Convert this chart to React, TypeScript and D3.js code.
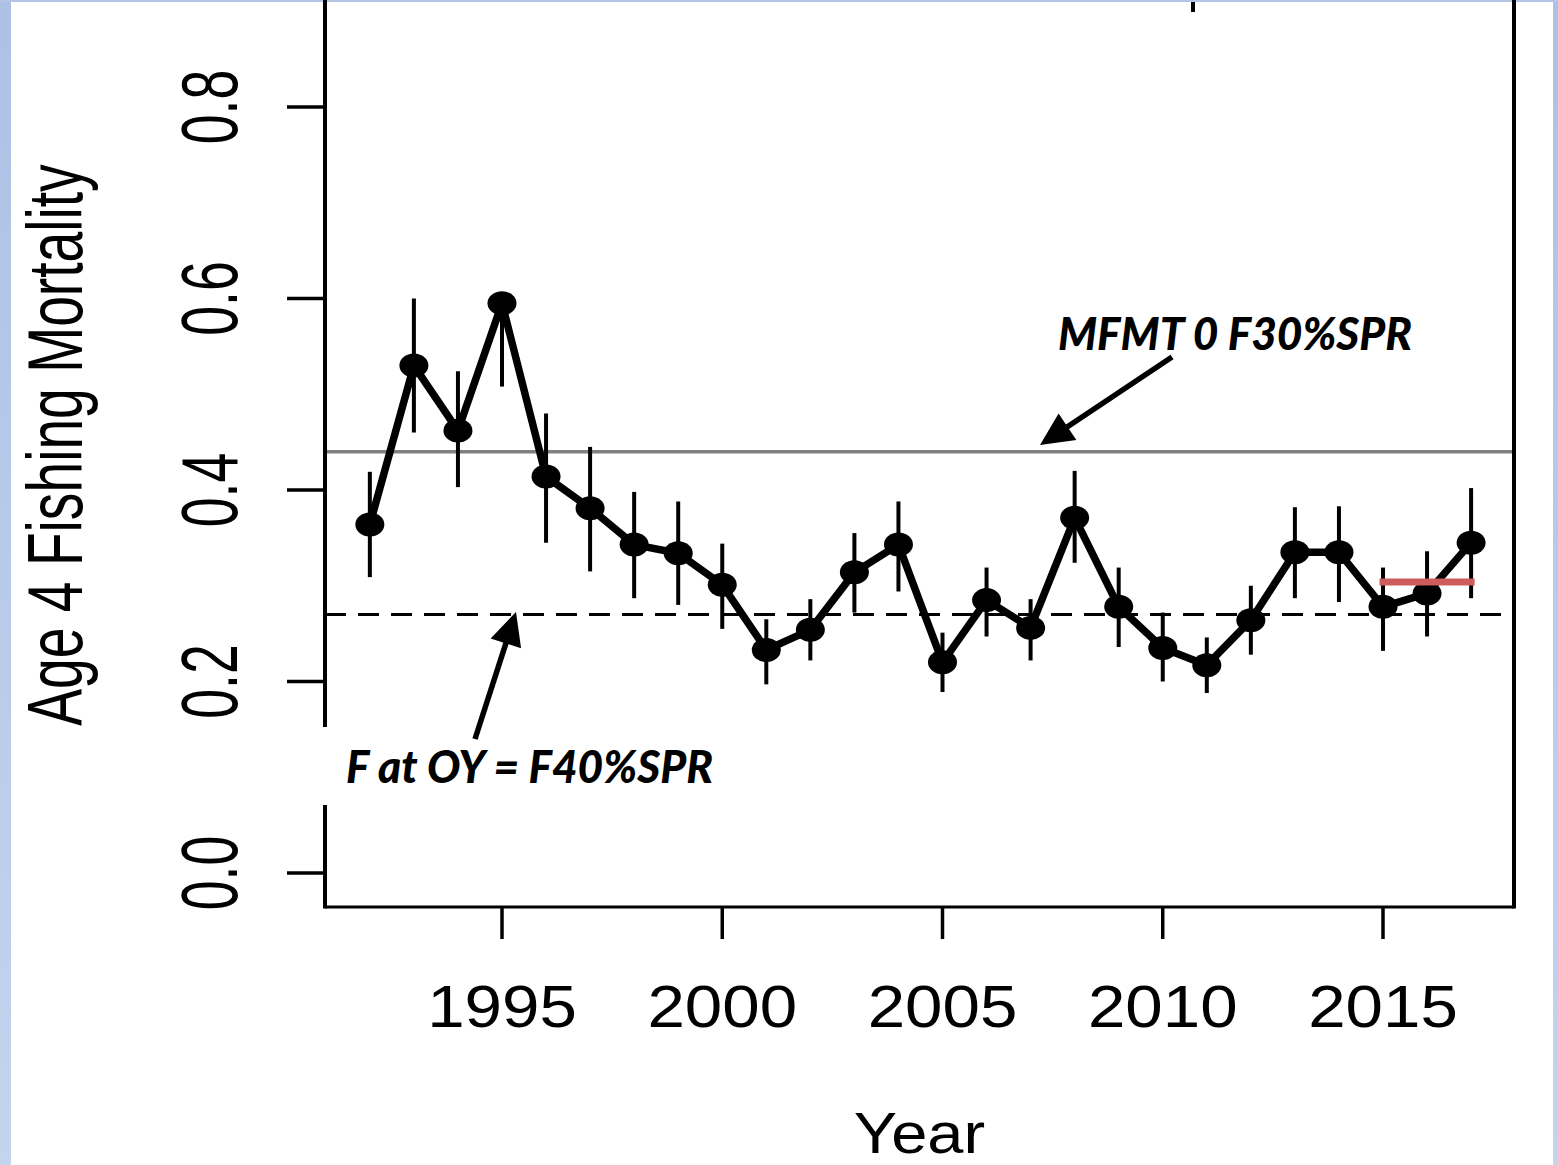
import React, { useEffect, useRef } from "react";
import * as d3 from "d3";

// age 4 F by year, with error bars
const years = [1992, 1993, 1994, 1995, 1996, 1997, 1998, 1999, 2000, 2001, 2002, 2003, 2004, 2005, 2006, 2007, 2008, 2009, 2010, 2011, 2012, 2013, 2014, 2015, 2016, 2017];
const fValues = [0.364, 0.530, 0.462, 0.595, 0.414, 0.381, 0.343, 0.334, 0.301, 0.233, 0.254, 0.314, 0.343, 0.220, 0.285, 0.256, 0.371, 0.278, 0.235, 0.217, 0.264, 0.335, 0.335, 0.278, 0.292, 0.345];
const fLower = [0.309, 0.460, 0.403, 0.508, 0.345, 0.315, 0.287, 0.280, 0.255, 0.197, 0.222, 0.272, 0.294, 0.189, 0.247, 0.222, 0.324, 0.236, 0.200, 0.188, 0.228, 0.287, 0.283, 0.232, 0.247, 0.287];
const fUpper = [0.419, 0.600, 0.524, 0.605, 0.480, 0.445, 0.398, 0.388, 0.344, 0.265, 0.286, 0.355, 0.388, 0.251, 0.319, 0.286, 0.420, 0.319, 0.272, 0.246, 0.300, 0.382, 0.383, 0.319, 0.336, 0.402];

const xTicks = [1995, 2000, 2005, 2010, 2015];
const yTicks = [0, 0.2, 0.4, 0.6, 0.8];
const yTickLabels = ["0.0", "0.2", "0.4", "0.6", "0.8"];

const mfmtValue = 0.44; // F30%SPR
const oyValue = 0.27; // F40%SPR
const recentYears = [2015, 2017];
const recentMean = 0.304;

const mfmtLabel = "MFMT 0 F30%SPR";
const oyLabel = "F at OY = F40%SPR";

const W = 1558;
const H = 1165;
const rFont = "'Liberation Sans', Arial, sans-serif";
const noteFont = "Lato, 'Open Sans', sans-serif";

const drawChart = (el: SVGSVGElement) => {
    const svg = d3.select(el);
    svg.selectAll("*").remove();

    const left = 325, right = 1514, bottom = 907, top = -10;
    const x = d3.scaleLinear().domain([1995, 2015]).range([502, 1383]);
    const y = d3.scaleLinear().domain([0, 0.8]).range([873, 107]);

    // slide frame
    const defs = svg.append("defs");
    const grad = defs.append("linearGradient").attr("id", "edge").attr("x1", 0).attr("x2", 0).attr("y1", 0).attr("y2", 1);
    grad.append("stop").attr("offset", "0%").attr("stop-color", "#adc1e5");
    grad.append("stop").attr("offset", "100%").attr("stop-color", "#c4d4ee");
    svg.append("rect").attr("width", W).attr("height", H).attr("fill", "#fff");
    svg.append("rect").attr("x", 0).attr("y", 0).attr("width", 11).attr("height", H).attr("fill", "url(#edge)");
    svg.append("rect").attr("x", 1553).attr("y", 0).attr("width", 5).attr("height", H).attr("fill", "url(#edge)");
    svg.append("rect").attr("x", 0).attr("y", 0).attr("width", W).attr("height", 2).attr("fill", "#b2c5e7");

    // reference lines
    svg.append("line")
        .attr("x1", left).attr("x2", right)
        .attr("y1", y(mfmtValue)).attr("y2", y(mfmtValue))
        .attr("stroke", "#808080").attr("stroke-width", 3.5);
    svg.append("line")
        .attr("x1", left).attr("x2", right)
        .attr("y1", y(oyValue)).attr("y2", y(oyValue))
        .attr("stroke", "#000").attr("stroke-width", 3)
        .attr("stroke-dasharray", "21 12");

    const idx = d3.range(years.length);

    // error bars
    svg.append("g").selectAll("line").data(idx).enter().append("line")
        .attr("x1", (i) => x(years[i])).attr("x2", (i) => x(years[i]))
        .attr("y1", (i) => y(fLower[i])).attr("y2", (i) => y(fUpper[i]))
        .attr("stroke", "#000").attr("stroke-width", 4);

    const line = d3.line<number>().x((i) => x(years[i])).y((i) => y(fValues[i]));
    svg.append("path")
        .attr("d", line(idx))
        .attr("fill", "none").attr("stroke", "#000")
        .attr("stroke-width", 7.5).attr("stroke-linejoin", "round");

    svg.append("g").selectAll("ellipse").data(idx).enter().append("ellipse")
        .attr("cx", (i) => x(years[i])).attr("cy", (i) => y(fValues[i]))
        .attr("rx", 14.5).attr("ry", 12).attr("fill", "#000");

    // recent average
    svg.append("line")
        .attr("x1", x(recentYears[0])).attr("x2", x(recentYears[1]))
        .attr("y1", y(recentMean)).attr("y2", y(recentMean))
        .attr("stroke", "#cd5c5c").attr("stroke-width", 7).attr("stroke-linecap", "square");

    // box
    svg.append("line").attr("x1", left).attr("x2", left).attr("y1", top).attr("y2", bottom + 1.5).attr("stroke", "#000").attr("stroke-width", 4);
    svg.append("line").attr("x1", right).attr("x2", right).attr("y1", top).attr("y2", bottom + 1.5).attr("stroke", "#000").attr("stroke-width", 4);
    svg.append("line").attr("x1", left).attr("x2", right).attr("y1", bottom).attr("y2", bottom).attr("stroke", "#000").attr("stroke-width", 3);
    svg.append("line").attr("x1", 1193).attr("x2", 1193).attr("y1", 2).attr("y2", 12).attr("stroke", "#000").attr("stroke-width", 4);

    // y axis
    const ya = svg.append("g");
    yTicks.forEach((v, i) => {
        ya.append("line").attr("x1", 287).attr("x2", left).attr("y1", y(v)).attr("y2", y(v))
            .attr("stroke", "#000").attr("stroke-width", 3.5);
        ya.append("text")
            .attr("transform", `translate(237,${y(v)}) rotate(-90) scale(0.67,1)`)
            .attr("text-anchor", "middle")
            .attr("font-family", rFont).attr("font-size", 80)
            .attr("fill", "#000")
            .text(yTickLabels[i]);
    });
    svg.append("text")
        .attr("transform", "translate(82,445) rotate(-90) scale(0.717,1)")
        .attr("text-anchor", "middle")
        .attr("font-family", rFont).attr("font-size", 77)
        .attr("fill", "#000")
        .text("Age 4 Fishing Mortality");

    // x axis
    const xa = svg.append("g");
    xTicks.forEach((t) => {
        xa.append("line").attr("x1", x(t)).attr("x2", x(t)).attr("y1", bottom).attr("y2", 939)
            .attr("stroke", "#000").attr("stroke-width", 3.5);
        xa.append("text")
            .attr("transform", `translate(${x(t)},1027) scale(1.14,1)`)
            .attr("text-anchor", "middle")
            .attr("font-family", rFont).attr("font-size", 59)
            .attr("fill", "#000")
            .text(String(t));
    });
    svg.append("text")
        .attr("transform", `translate(${(left + right) / 2},1153) scale(1.14,1)`)
        .attr("text-anchor", "middle")
        .attr("font-family", rFont).attr("font-size", 57)
        .attr("fill", "#000")
        .text("Year");

    // annotations
    const arrow = (x1: number, y1: number, x2: number, y2: number) => {
        const dx = x2 - x1, dy = y2 - y1;
        const len = Math.hypot(dx, dy);
        const ux = dx / len, uy = dy / len;
        const hl = 33, hw = 16;
        const bx = x2 - ux * hl, by = y2 - uy * hl;
        svg.append("line")
            .attr("x1", x1).attr("y1", y1).attr("x2", bx + ux * 4).attr("y2", by + uy * 4)
            .attr("stroke", "#000").attr("stroke-width", 5.5);
        svg.append("polygon")
            .attr("points", `${x2},${y2} ${bx - uy * hw},${by + ux * hw} ${bx + uy * hw},${by - ux * hw}`)
            .attr("fill", "#000");
    };

    svg.append("text")
        .attr("x", 1058).attr("y", 350)
        .attr("font-family", noteFont).attr("font-size", 46)
        .attr("font-weight", 900).attr("font-style", "italic")
        .attr("textLength", 354).attr("lengthAdjust", "spacingAndGlyphs")
        .attr("fill", "#000")
        .text(mfmtLabel);
    arrow(1172, 357, 1040, 445);

    svg.append("rect").attr("x", 318).attr("y", 727).attr("width", 404).attr("height", 78).attr("fill", "#fff");
    svg.append("text")
        .attr("x", 346).attr("y", 783)
        .attr("font-family", noteFont).attr("font-size", 46)
        .attr("font-weight", 900).attr("font-style", "italic")
        .attr("textLength", 367).attr("lengthAdjust", "spacingAndGlyphs")
        .attr("fill", "#000")
        .text(oyLabel);
    arrow(475, 739, 516, 612);
};

export default function App() {
    const ref = useRef<SVGSVGElement>(null);
    useEffect(() => {
        document.body.style.margin = "0";
        if (ref.current) drawChart(ref.current);
    }, []);
    return (
        <svg ref={ref} width={W} height={H} viewBox={`0 0 ${W} ${H}`}
            style={{ display: "block", position: "absolute", left: 0, top: 0 }} />
    );
}
